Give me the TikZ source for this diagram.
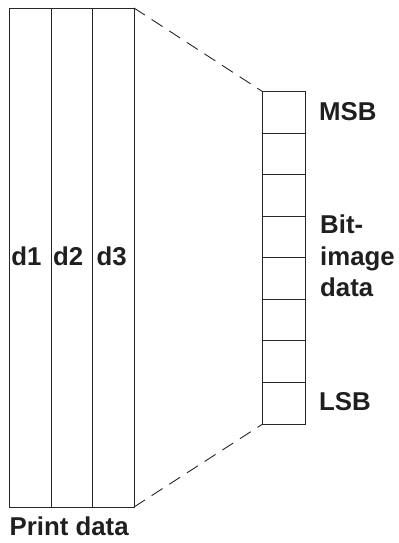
\documentclass[tikz,border=0pt]{standalone}
\usepackage{fontspec}
\setmainfont{Liberation Sans}
\begin{document}
\begin{tikzpicture}[x=1bp,y=-1bp,
  ln/.style={line width=0.9bp,draw=black!85},
  dsh/.style={line width=0.9bp,draw=black!85,dash pattern=on 13bp off 8bp},
  lbl/.style={inner sep=0pt,anchor=base west,text=black!88,font=\fontsize{25.8bp}{30bp}\selectfont\bfseries},
  cell/.style={ln,minimum width=42.3bp,minimum height=41.54bp,inner sep=0pt,outer sep=0pt}]
\useasboundingbox (0,0) rectangle (398,543);
% print data columns
\coordinate (c0t) at (9,8);   \coordinate (c0b) at (9,507);
\coordinate (c1t) at (51,8);  \coordinate (c1b) at (51,507);
\coordinate (c2t) at (92.5,8);\coordinate (c2b) at (92.5,507);
\coordinate (c3t) at (134,8); \coordinate (c3b) at (134,507);
\draw[ln] (c0t) rectangle (c3b);
\draw[ln] (c1t) -- (c1b);
\draw[ln] (c2t) -- (c2b);
% bit cells
\foreach \i in {0,...,7}{
  \node[cell,draw,anchor=north west] (b\i) at (262.7,{91.7+41.54*\i}) {};
}
% dashed connectors
\draw[dsh] (c3t) -- (b0.north west);
\draw[dsh] (c3b) -- (b7.south west);
% labels
\node[lbl] (d1) at (11.2,265) {d1};
\node[lbl] (d2) at (53,265) {d2};
\node[lbl] (d3) at (96.3,265) {d3};
\node[lbl] (msb) at (319,121) {MSB};
\node[lbl] (bit1) at (320,233.5) {Bit-};
\node[lbl] (bit2) at (320,265) {image};
\node[lbl] (bit3) at (320,296.5) {data};
\node[lbl] (lsb) at (319,410) {LSB};
\node[lbl] (pd) at (9.5,535) {Print data};
\end{tikzpicture}
\end{document}
